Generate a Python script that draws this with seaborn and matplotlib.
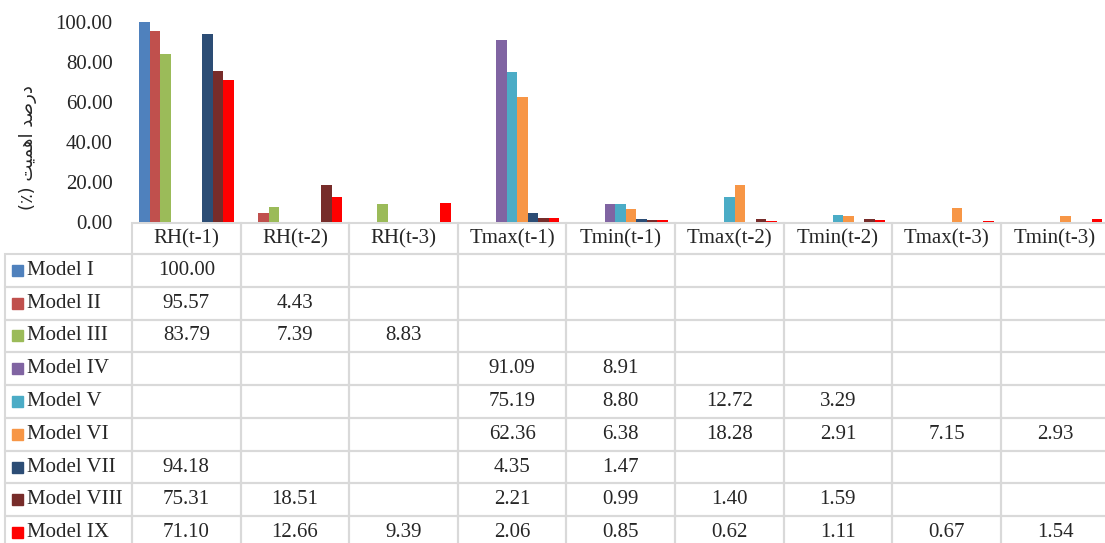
import numpy as np
import pandas as pd
import seaborn as sns
import matplotlib.pyplot as plt
from matplotlib.patches import Rectangle

sns.set_style('white')
plt.rcParams['font.family'] = ['Liberation Serif', 'DejaVu Sans']

# ---- data ----
categories = ['RH(t-1)', 'RH(t-2)', 'RH(t-3)', 'Tmax(t-1)', 'Tmin(t-1)',
              'Tmax(t-2)', 'Tmin(t-2)', 'Tmax(t-3)', 'Tmin(t-3)']
models = ['Model I', 'Model II', 'Model III', 'Model IV', 'Model V',
          'Model VI', 'Model VII', 'Model VIII', 'Model IX']
colors = ['#4F81BD', '#C0504D', '#9BBB59', '#8064A2', '#4BACC6',
          '#F79646', '#2C4D75', '#772C2A', '#FF0000']

model_1 = [100.00, None, None, None, None, None, None, None, None]
model_2 = [95.57, 4.43, None, None, None, None, None, None, None]
model_3 = [83.79, 7.39, 8.83, None, None, None, None, None, None]
model_4 = [None, None, None, 91.09, 8.91, None, None, None, None]
model_5 = [None, None, None, 75.19, 8.80, 12.72, 3.29, None, None]
model_6 = [None, None, None, 62.36, 6.38, 18.28, 2.91, 7.15, 2.93]
model_7 = [94.18, None, None, 4.35, 1.47, None, None, None, None]
model_8 = [75.31, 18.51, None, 2.21, 0.99, 1.40, 1.59, None, None]
model_9 = [71.10, 12.66, 9.39, 2.06, 0.85, 0.62, 1.11, 0.67, 1.54]
values = [model_1, model_2, model_3, model_4, model_5,
          model_6, model_7, model_8, model_9]

# y label "درصد اهمیت (٪)" written in shaped, visual order (matplotlib does no RTL shaping)
ylabel = '(\u066A) \uFE96\uFBFF\uFEE4\uFEEB\uFE8D \uFEAA\uFEBB\uFEAD\uFEA9'

# long format for seaborn
rows = []
for m, vals in zip(models, values):
    for c, v in zip(categories, vals):
        if v is not None:
            rows.append({'model': m, 'variable': c, 'value': v})
df = pd.DataFrame(rows)

#==================================
# bars
#==================================
fig = plt.figure(figsize=(11.05, 5.43), dpi=100)
ax = fig.add_axes([132 / 1105, 321 / 543, 977.4 / 1105, 200 / 543])

sns.barplot(data=df, x='variable', y='value', hue='model',
            order=categories, hue_order=models, palette=colors,
            saturation=1, width=0.87, errorbar=None, linewidth=0,
            legend=False, ax=ax)

ax.set_xlim(-0.5, len(categories) - 0.5)
ax.set_ylim(0, 100)
ax.set_yticks(np.arange(0, 101, 20))
ax.set_yticklabels([f'{t:.2f}' for t in np.arange(0, 101, 20)], fontsize=15)
ax.set_xticks([])
ax.set_xlabel('')
ax.set_ylabel('')
ax.tick_params(axis='y', length=0, pad=14)
sns.despine(ax=ax, left=True, bottom=True)
ax.grid(False)

fig.text(28 / 1105, 1 - 148 / 543, ylabel, rotation=90, ha='center',
         va='center', fontsize=13, family=['DejaVu Sans'])

#==================================
# data table under the bars
#==================================
cell_text = [[''] + categories]
for m, vals in zip(models, values):
    cell_text.append([m] + ['' if v is None else f'{v:.2f}' for v in vals])

tbl = ax.table(cellText=cell_text, cellLoc='center',
               colWidths=[127] + [108.6] * len(categories),
               bbox=[-127 / 977.4, -327 / 200, 1104.4 / 977.4, 326 / 200])
tbl.auto_set_font_size(False)
tbl.set_fontsize(15)

for (r, c), cell in tbl.get_celld().items():
    cell.set_edgecolor('#D9D9D9')
    cell.set_linewidth(1.5)
    cell.set_facecolor('none')
    cell.set_height(31 if r == 0 else 32.75)
    if r == 0 and c == 0:
        cell.visible_edges = 'open'
    if c == 0 and r > 0:
        cell.get_text().set_ha('left')
        cell.PAD = 22 / 127

# colour keys next to the model names
fig.canvas.draw()
cells = tbl.get_celld()
for i, col in enumerate(colors):
    cell = cells[i + 1, 0]
    y0 = cell.get_y() + cell.get_height() / 2 - 5.5 / 200
    ax.add_patch(Rectangle((cell.get_x() + 7 / 977.4, y0), 11 / 977.4, 11 / 200,
                           transform=ax.transAxes, color=col, clip_on=False))

fig.savefig('out.png', dpi=100)
